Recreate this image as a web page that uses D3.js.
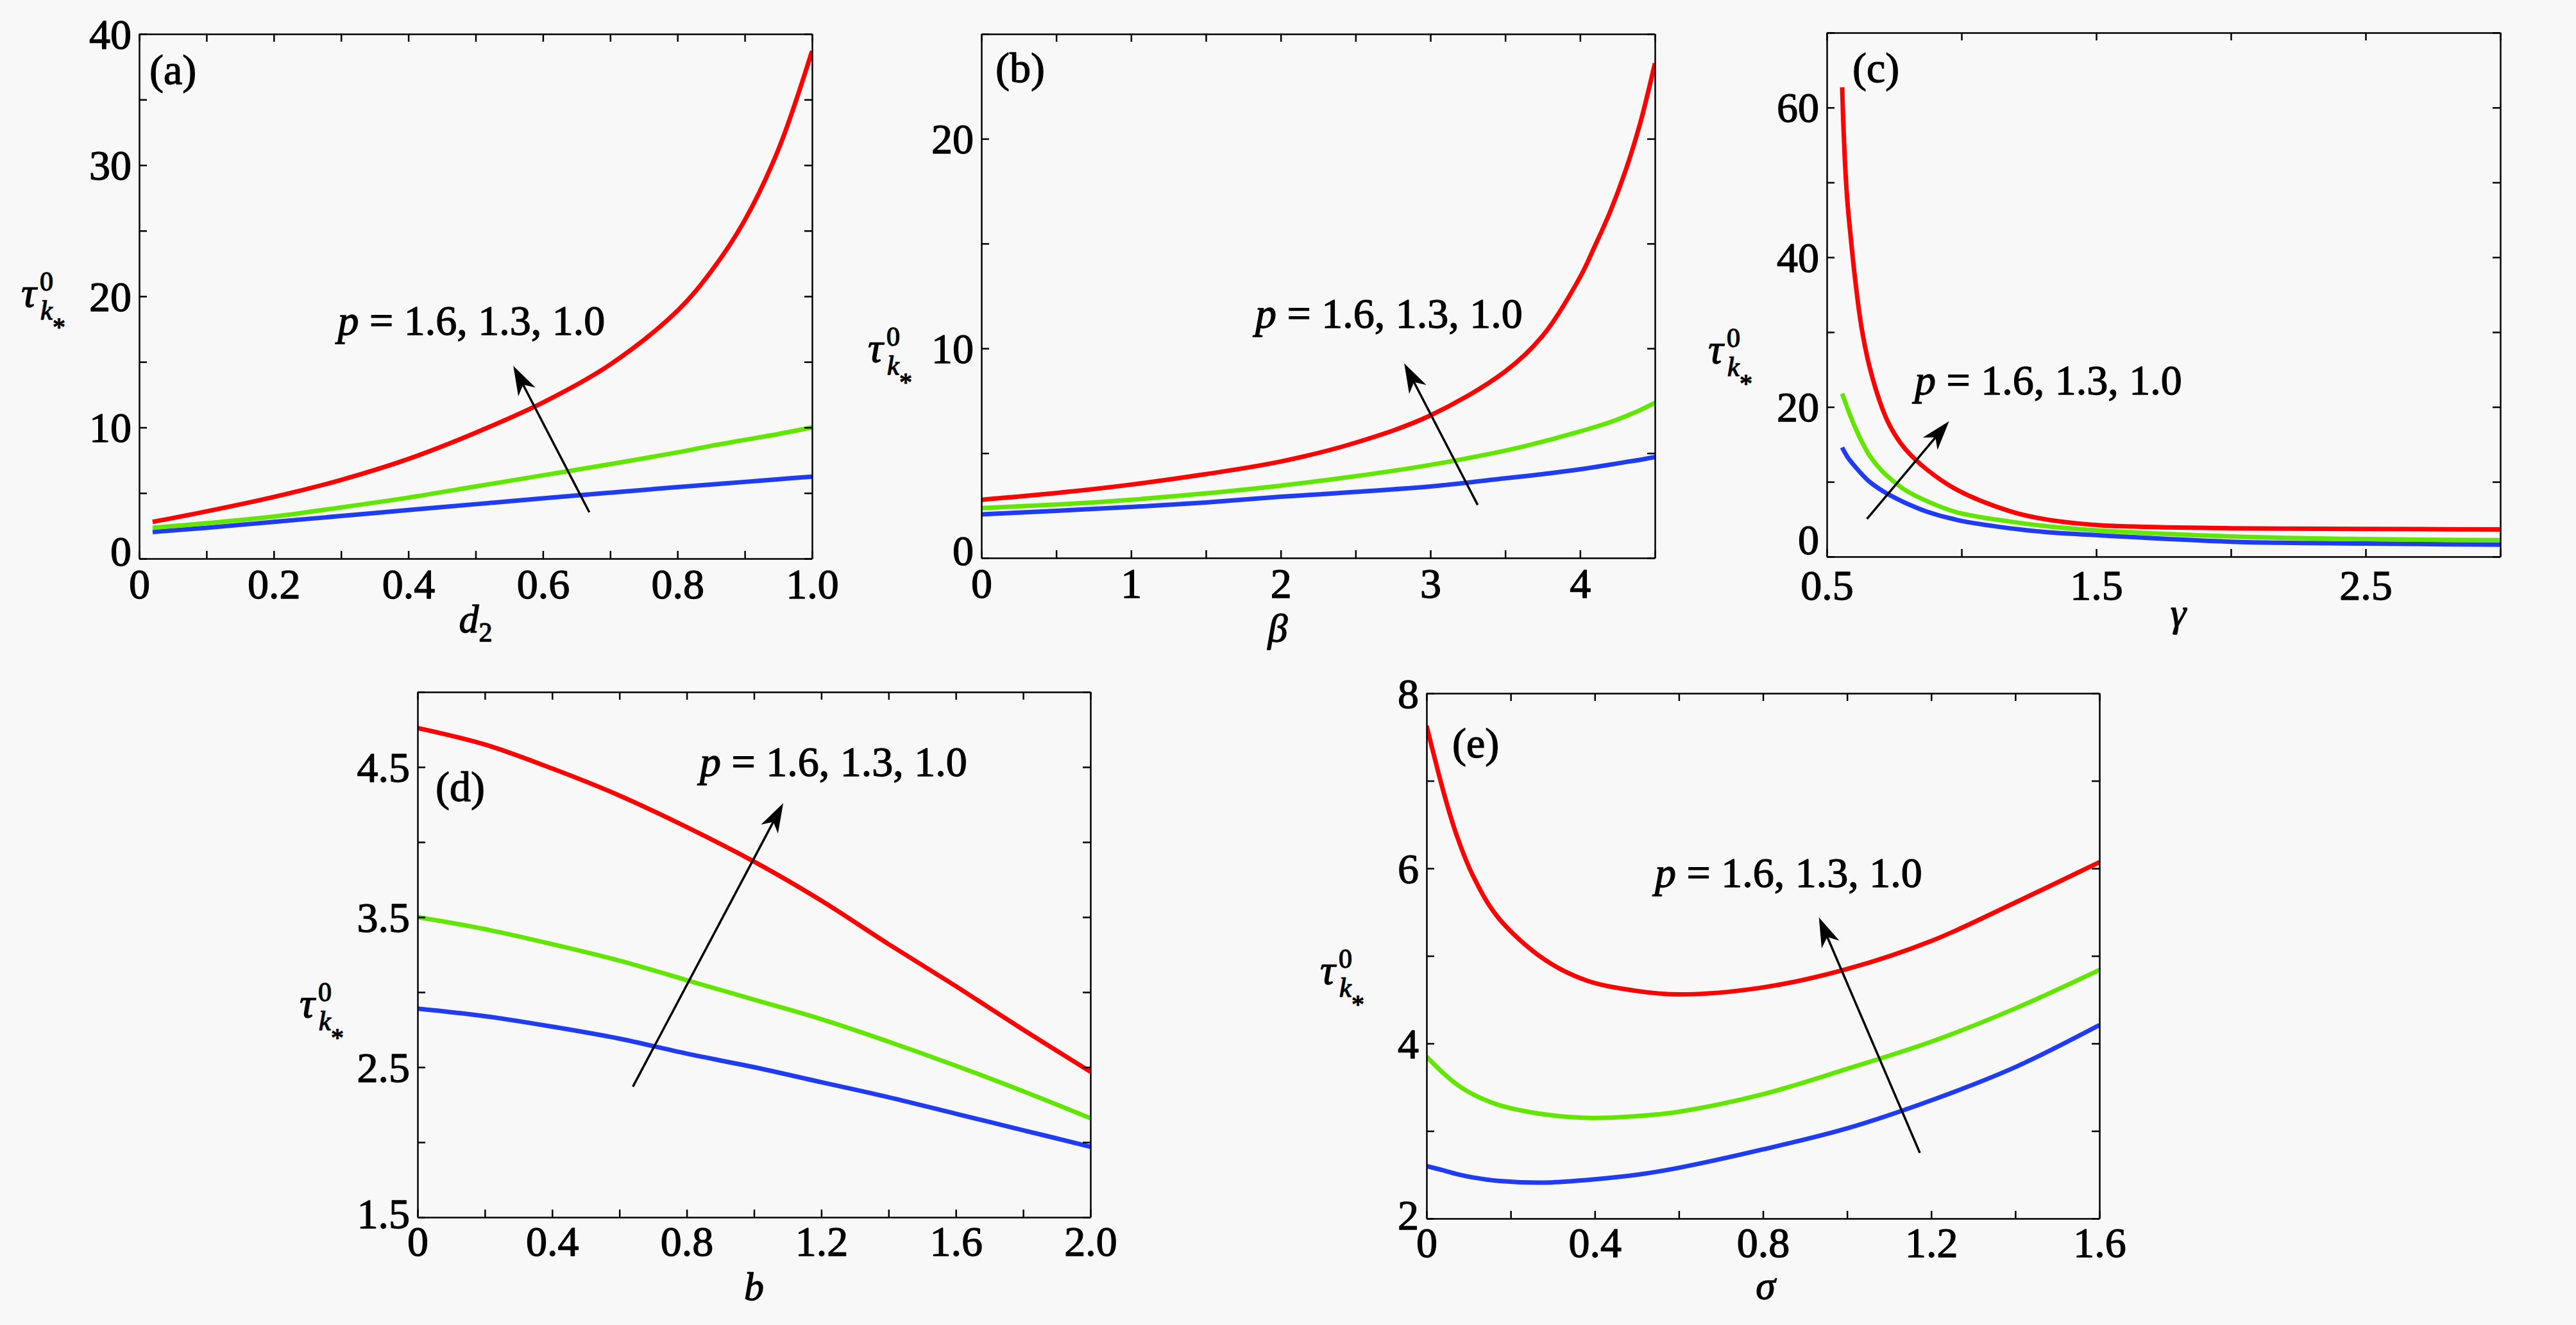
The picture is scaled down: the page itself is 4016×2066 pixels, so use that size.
<!DOCTYPE html>
<html>
<head>
<meta charset="utf-8">
<script src="https://cdn.jsdelivr.net/npm/d3@7"></script>
<style>
html,body{margin:0;padding:0;background:#f8f8f8;}
svg{display:block;}
</style>
</head>
<body>
<script>
// ---------------- DATA ----------------
const annotationText = "= 1.6, 1.3, 1.0";

// (a) tau vs d2
const aX     = [0.02, 0.1, 0.2, 0.3, 0.4, 0.5, 0.6, 0.7, 0.8, 0.85, 0.9, 0.95, 1.0];
const aRed   = [2.8, 3.6, 4.7, 6.0, 7.6, 9.6, 11.9, 14.8, 18.9, 21.9, 25.8, 31.2, 38.7];
const aGreen = [2.35, 2.7, 3.2, 3.9, 4.65, 5.5, 6.35, 7.2, 8.1, 8.6, 9.05, 9.5, 10.0];
const aBlue  = [2.03, 2.35, 2.8, 3.25, 3.7, 4.15, 4.6, 5.03, 5.45, 5.65, 5.85, 6.05, 6.25];
const aXTicks = [0, 0.1, 0.2, 0.3, 0.4, 0.5, 0.6, 0.7, 0.8, 0.9, 1.0];
const aXLabelVals = [0, 0.2, 0.4, 0.6, 0.8, 1.0];
const aXLabels = ["0", "0.2", "0.4", "0.6", "0.8", "1.0"];
const aYTicks = [0, 5, 10, 15, 20, 25, 30, 35, 40];
const aYLabelVals = [0, 10, 20, 30, 40];
const aYLabels = ["0", "10", "20", "30", "40"];

// (b) tau vs beta
const bX     = [0, 0.5, 1, 1.5, 2, 2.5, 3, 3.5, 3.75, 4, 4.1, 4.2, 4.3, 4.4, 4.5];
const bRed   = [2.78, 3.1, 3.5, 4.0, 4.6, 5.5, 6.8, 8.9, 10.6, 13.4, 14.9, 16.5, 18.4, 20.7, 23.6];
const bGreen = [2.38, 2.55, 2.78, 3.08, 3.45, 3.9, 4.44, 5.12, 5.55, 6.04, 6.25, 6.48, 6.75, 7.05, 7.4];
const bBlue  = [2.08, 2.25, 2.43, 2.65, 2.92, 3.15, 3.41, 3.8, 4.0, 4.23, 4.34, 4.45, 4.57, 4.68, 4.81];
const bXTicks = [0, 0.5, 1, 1.5, 2, 2.5, 3, 3.5, 4, 4.5];
const bXLabelVals = [0, 1, 2, 3, 4];
const bXLabels = ["0", "1", "2", "3", "4"];
const bYTicks = [0, 5, 10, 15, 20, 25];
const bYLabelVals = [0, 10, 20];
const bYLabels = ["0", "10", "20"];

// (c) tau vs gamma
const cX     = [0.557, 0.561, 0.569, 0.577, 0.592, 0.606, 0.628, 0.659, 0.706, 0.74, 0.791, 0.873, 0.985, 1.178, 1.31, 1.514, 2.0, 2.5, 3.0];
const cRed   = [62.7, 58.2, 51.6, 47.2, 41.5, 36.8, 30.8, 25.3, 19.8, 17.1, 14.4, 11.6, 8.9, 6.1, 5.0, 4.2, 3.8, 3.7, 3.65];
const cGreen = [21.8, 21.4, 20.6, 19.8, 18.4, 17.2, 15.5, 13.5, 11.4, 10.3, 8.9, 7.4, 5.9, 4.7, 4.1, 3.5, 2.7, 2.35, 2.2];
const cBlue  = [14.6, 14.3, 13.8, 13.3, 12.6, 12.0, 11.1, 10.0, 8.8, 8.1, 7.2, 6.0, 4.9, 3.8, 3.3, 2.85, 2.0, 1.75, 1.6];
const cXTicks = [0.5, 1.0, 1.5, 2.0, 2.5, 3.0];
const cXLabelVals = [0.5, 1.5, 2.5];
const cXLabels = ["0.5", "1.5", "2.5"];
const cYTicks = [0, 10, 20, 30, 40, 50, 60, 70];
const cYLabelVals = [0, 20, 40, 60];
const cYLabels = ["0", "20", "40", "60"];

// (d) tau vs b
const dX     = [0, 0.2, 0.4, 0.6, 0.8, 1.0, 1.2, 1.4, 1.6, 1.8, 2.0];
const dRed   = [4.76, 4.65, 4.49, 4.31, 4.10, 3.87, 3.61, 3.32, 3.04, 2.75, 2.47];
const dGreen = [3.50, 3.42, 3.32, 3.21, 3.08, 2.95, 2.82, 2.67, 2.51, 2.34, 2.16];
const dBlue  = [2.89, 2.84, 2.77, 2.69, 2.59, 2.50, 2.40, 2.30, 2.19, 2.08, 1.97];
const dXTicks = [0, 0.2, 0.4, 0.6, 0.8, 1.0, 1.2, 1.4, 1.6, 1.8, 2.0];
const dXLabelVals = [0, 0.4, 0.8, 1.2, 1.6, 2.0];
const dXLabels = ["0", "0.4", "0.8", "1.2", "1.6", "2.0"];
const dYTicks = [1.5, 2.0, 2.5, 3.0, 3.5, 4.0, 4.5, 5.0];
const dYLabelVals = [1.5, 2.5, 3.5, 4.5];
const dYLabels = ["1.5", "2.5", "3.5", "4.5"];

// (e) tau vs sigma
const eX     = [0, 0.04, 0.07, 0.11, 0.17, 0.28, 0.38, 0.5, 0.6, 0.8, 1.0, 1.2, 1.4, 1.6];
const eRed   = [7.63, 6.88, 6.40, 5.92, 5.44, 4.96, 4.72, 4.60, 4.56, 4.64, 4.85, 5.17, 5.61, 6.07];
const eGreen = [3.85, 3.66, 3.54, 3.42, 3.30, 3.19, 3.15, 3.17, 3.22, 3.42, 3.71, 4.02, 4.40, 4.84];
const eBlue  = [2.60, 2.55, 2.51, 2.47, 2.43, 2.41, 2.44, 2.50, 2.58, 2.79, 3.03, 3.35, 3.73, 4.21];
const eXTicks = [0, 0.2, 0.4, 0.6, 0.8, 1.0, 1.2, 1.4, 1.6];
const eXLabelVals = [0, 0.4, 0.8, 1.2, 1.6];
const eXLabels = ["0", "0.4", "0.8", "1.2", "1.6"];
const eYTicks = [2, 3, 4, 5, 6, 7, 8];
const eYLabelVals = [2, 4, 6, 8];
const eYLabels = ["2", "4", "6", "8"];

// annotation anchors (data units): text start, arrow tail, arrow tip
const aNote = {text: [0.295, 17.07], tail: [0.669, 3.53], tip: [0.556, 14.7]};
const bNote = {text: [1.83, 11.0], tail: [3.316, 2.53], tip: [2.825, 9.29]};
const cNote = {text: [0.826, 21.7], tail: [0.649, 5.04], tip: [0.954, 18.1]};
const dNote = {text: [0.839, 4.44], tail: [0.640, 2.37], tip: [1.087, 4.26]};
const eNote = {text: [0.543, 5.79], tail: [1.173, 2.75], tip: [0.933, 5.44]};

// ---------------- LAYOUT / STYLE ----------------
const W = 4016, H = 2066;
const FONT = "'Liberation Serif', 'Times New Roman', Tinos, serif";
const COLORS = ["#ff0000", "#62e600", "#1f3cf2"]; // p=1.6 red, 1.3 green, 1.0 blue
const TICK_FS = 66;
const TEXT_STROKE = 1.3;

const panels = [
  {tag: "(a)", left: 217, top: 53, w: 1049, h: 818, xd: [0, 1], yd: [0, 40],
   xs: aX, ys: [aRed, aGreen, aBlue], xt: aXTicks, xlv: aXLabelVals, xl: aXLabels,
   yt: aYTicks, ylv: aYLabelVals, yl: aYLabels, note: aNote,
   xlab: ["d", "2"], xlabDx: 0, xlabDy: 115, minDy: 10, xPad: 15,
   tau: [33, 478], tagPos: [16, 78]},
  {tag: "(b)", left: 1530, top: 53, w: 1050, h: 817, xd: [0, 4.5], yd: [0, 25],
   xs: bX, ys: [bRed, bGreen, bBlue], xt: bXTicks, xlv: bXLabelVals, xl: bXLabels,
   yt: bYTicks, ylv: bYLabelVals, yl: bYLabels, note: bNote,
   xlab: ["β", ""], xlabDx: -63, xlabDy: 130, minDy: 10, xPad: 15,
   tau: [1353, 564], tagPos: [22, 75]},
  {tag: "(c)", left: 2848, top: 51, w: 1050, h: 817, xd: [0.5, 3.0], yd: [0, 70],
   xs: cX, ys: [cRed, cGreen, cBlue], xt: cXTicks, xlv: cXLabelVals, xl: cXLabels,
   yt: cYTicks, ylv: cYLabelVals, yl: cYLabels, note: cNote,
   xlab: ["γ", ""], xlabDx: 23, xlabDy: 108, minDy: -5, xPad: 20,
   tau: [2663, 566], tagPos: [40, 77]},
  {tag: "(d)", left: 651, top: 1079, w: 1049, h: 819, xd: [0, 2], yd: [1.5, 5.0],
   xs: dX, ys: [dRed, dGreen, dBlue], xt: dXTicks, xlv: dXLabelVals, xl: dXLabels,
   yt: dYTicks, ylv: dYLabelVals, yl: dYLabels, note: dNote,
   xlab: ["b", ""], xlabDx: 0, xlabDy: 129, minDy: 16, xPad: 13,
   tau: [467, 1586], tagPos: [28, 170]},
  {tag: "(e)", left: 2224, top: 1081, w: 1049, h: 819, xd: [0, 1.6], yd: [2, 8],
   xs: eX, ys: [eRed, eGreen, eBlue], xt: eXTicks, xlv: eXLabelVals, xl: eXLabels,
   yt: eYTicks, ylv: eYLabelVals, yl: eYLabels, note: eNote,
   xlab: ["σ", ""], xlabDx: 4, xlabDy: 125, minDy: 16, xPad: 13,
   tau: [2058, 1534], tagPos: [40, 100]}
];

const svg = d3.select("body").append("svg")
  .attr("width", W).attr("height", H)
  .attr("viewBox", `0 0 ${W} ${H}`)
  .style("font-family", FONT);

svg.append("rect").attr("width", W).attr("height", H).attr("fill", "#f8f8f8");

function labelFmt(vals, labels) {
  return d => {
    const i = vals.findIndex(v => Math.abs(v - d) < 1e-9);
    return i >= 0 ? labels[i] : "";
  };
}

function boldish(sel) {
  return sel.attr("stroke", "#000").attr("stroke-width", TEXT_STROKE)
    .attr("stroke-linejoin", "round").attr("fill", "#000");
}

function styleAxis(sel) {
  sel.attr("font-family", null).attr("font-size", null)
    .style("font-family", FONT).style("font-size", TICK_FS + "px");
  sel.select(".domain").attr("stroke", "#000").attr("stroke-width", 2.5);
  sel.selectAll(".tick line").attr("stroke", "#000").attr("stroke-width", 2.5);
  boldish(sel.selectAll(".tick text"));
}

function txt(parent) {
  return boldish(parent.append("text").style("font-family", FONT));
}

panels.forEach((p, pi) => {
  const g = svg.append("g").attr("transform", `translate(${p.left},${p.top})`);
  const x = d3.scaleLinear().domain(p.xd).range([0, p.w]);
  const y = d3.scaleLinear().domain(p.yd).range([p.h, 0]);

  const clipId = "clip" + pi;
  g.append("clipPath").attr("id", clipId)
    .append("rect").attr("x", 0).attr("y", 0).attr("width", p.w).attr("height", p.h);

  // curves (blue, green, red order so red on top)
  const line = d3.line().curve(d3.curveCatmullRom.alpha(0.5));
  [2, 1, 0].forEach(si => {
    const pts = p.xs.map((xv, i) => [x(xv), y(p.ys[si][i])]);
    g.append("path")
      .attr("clip-path", `url(#${clipId})`)
      .attr("d", line(pts))
      .attr("fill", "none")
      .attr("stroke", COLORS[si])
      .attr("stroke-width", 7)
      .attr("stroke-linejoin", "round")
      .attr("stroke-linecap", "butt");
  });

  // axes (all four sides, inward ticks)
  const gb = g.append("g").attr("transform", `translate(0,${p.h})`)
    .call(d3.axisBottom(x).tickValues(p.xt).tickSize(-12).tickSizeOuter(0)
      .tickPadding(p.xPad).tickFormat(labelFmt(p.xlv, p.xl)));
  styleAxis(gb);

  const gl = g.append("g")
    .call(d3.axisLeft(y).tickValues(p.yt).tickSize(-12).tickSizeOuter(0)
      .tickPadding(12).tickFormat(labelFmt(p.ylv, p.yl)));
  styleAxis(gl);
  gl.selectAll(".tick text")
    .attr("dy", d => Math.abs(d - p.yd[0]) < 1e-9 ? p.minDy : 22);

  const gt = g.append("g")
    .call(d3.axisTop(x).tickValues(p.xt).tickSize(-12).tickSizeOuter(0).tickFormat(""));
  styleAxis(gt);
  const gr = g.append("g").attr("transform", `translate(${p.w},0)`)
    .call(d3.axisRight(y).tickValues(p.yt).tickSize(-12).tickSizeOuter(0).tickFormat(""));
  styleAxis(gr);

  // panel tag
  txt(g).attr("x", p.tagPos[0]).attr("y", p.tagPos[1])
    .style("font-size", TICK_FS + "px").text(p.tag);

  // annotation text
  const t = txt(g)
    .attr("x", x(p.note.text[0])).attr("y", y(p.note.text[1]))
    .style("font-size", TICK_FS + "px");
  t.append("tspan").style("font-style", "italic").text("p");
  t.append("tspan").attr("xml:space", "preserve").text(" " + annotationText);

  // arrow
  const tx = x(p.note.tail[0]), ty = y(p.note.tail[1]);
  const hx = x(p.note.tip[0]), hy = y(p.note.tip[1]);
  const len = Math.hypot(hx - tx, hy - ty);
  const ux = (hx - tx) / len, uy = (hy - ty) / len;
  const nx = -uy, ny = ux;
  const L = 46, Wd = 15;
  g.append("line")
    .attr("x1", tx).attr("y1", ty)
    .attr("x2", hx - ux * L * 0.7).attr("y2", hy - uy * L * 0.7)
    .attr("stroke", "#000").attr("stroke-width", 3.5);
  const head = [
    [hx, hy],
    [hx - ux * L + nx * Wd, hy - uy * L + ny * Wd],
    [hx - ux * L * 0.72, hy - uy * L * 0.72],
    [hx - ux * L - nx * Wd, hy - uy * L - ny * Wd]
  ];
  g.append("path")
    .attr("d", "M" + head.map(q => q.join(",")).join("L") + "Z")
    .attr("fill", "#000");

  // x label
  const xl = txt(svg)
    .attr("x", p.left + p.w / 2 + p.xlabDx)
    .attr("y", p.top + p.h + p.xlabDy)
    .attr("text-anchor", "middle")
    .style("font-size", "62px");
  xl.append("tspan").style("font-style", "italic").text(p.xlab[0]);
  if (p.xlab[1]) xl.append("tspan").style("font-size", "42px").attr("dy", 14).text(p.xlab[1]);

  // y label tau^0_{k*}
  const [ox, ob] = p.tau;
  const yg = svg.append("g");
  txt(yg).attr("x", ox).attr("y", ob).style("font-size", "66px")
    .style("font-style", "italic").text("τ");
  txt(yg).attr("x", ox + 29).attr("y", ob - 25).style("font-size", "42px").text("0");
  txt(yg).attr("x", ox + 30).attr("y", ob + 20).style("font-size", "42px")
    .style("font-style", "italic").text("k");
  txt(yg).attr("x", ox + 49).attr("y", ob + 45).style("font-size", "40px").text("*");
});
</script>
</body>
</html>
